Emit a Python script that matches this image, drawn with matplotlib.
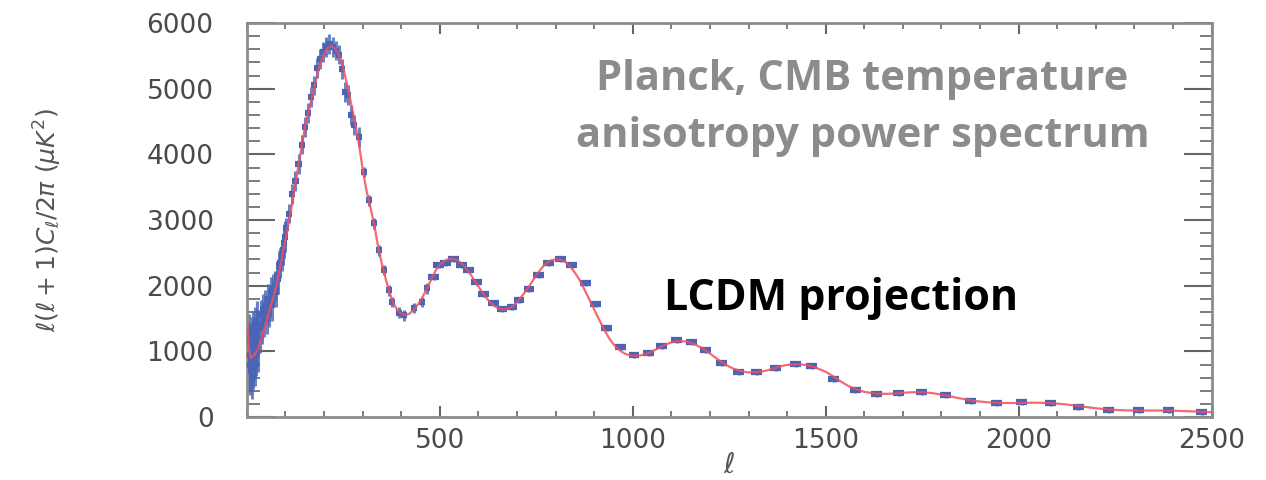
import matplotlib
matplotlib.use("Agg")
import matplotlib.pyplot as plt
import numpy as np
from matplotlib.ticker import MultipleLocator

# LCDM model curve (multipole l, D_l in muK^2)
l_model = [2, 5, 10, 20, 30, 40, 50, 60, 70, 80, 90, 100, 110, 120, 130, 140,
           150, 160, 170, 180, 190, 200, 210, 220, 230, 240, 250, 260, 270,
           280, 290, 300, 310, 320, 330, 340, 350, 360, 370, 380, 390, 400,
           410, 420, 430, 440, 450, 460, 470, 480, 490, 500, 510, 520, 530,
           540, 550, 560, 570, 580, 590, 600, 610, 620, 630, 640, 650, 660,
           670, 680, 690, 700, 710, 720, 730, 740, 750, 760, 770, 780, 790,
           800, 810, 820, 830, 840, 850, 860, 870, 880, 890, 900, 910, 920,
           930, 940, 950, 960, 970, 980, 990, 1000, 1020, 1040, 1060, 1080,
           1100, 1120, 1140, 1160, 1180, 1200, 1220, 1240, 1260, 1280, 1300,
           1320, 1340, 1360, 1380, 1400, 1420, 1440, 1460, 1480, 1500, 1520,
           1540, 1560, 1580, 1600, 1620, 1640, 1660, 1680, 1700, 1720, 1740,
           1760, 1780, 1800, 1840, 1880, 1920, 1960, 2000, 2040, 2080, 2120,
           2160, 2200, 2240, 2280, 2320, 2360, 2400, 2440, 2480, 2500]
D_model = [1380, 1050, 900, 950, 1050, 1250, 1450, 1650, 1850, 2100, 2400,
           2700, 3000, 3350, 3700, 4050, 4400, 4650, 4900, 5150, 5380, 5530,
           5620, 5650, 5600, 5500, 5320, 5050, 4780, 4480, 4180, 3780, 3450,
           3200, 2930, 2600, 2330, 2100, 1890, 1730, 1630, 1575, 1555, 1570,
           1620, 1690, 1770, 1880, 2000, 2120, 2240, 2320, 2370, 2400, 2410,
           2400, 2370, 2320, 2250, 2170, 2080, 1990, 1900, 1820, 1750, 1700,
           1660, 1640, 1640, 1660, 1690, 1750, 1820, 1900, 1980, 2070, 2160,
           2240, 2310, 2360, 2390, 2400, 2400, 2380, 2340, 2280, 2200, 2110,
           2000, 1880, 1760, 1640, 1520, 1400, 1290, 1190, 1110, 1050, 1000,
           965, 945, 935, 940, 970, 1030, 1090, 1140, 1160, 1150, 1110, 1050,
           970, 880, 800, 740, 700, 680, 685, 700, 730, 770, 795, 805, 800,
           780, 740, 690, 620, 540, 470, 420, 385, 365, 355, 355, 360, 370,
           378, 380, 375, 362, 342, 295, 250, 225, 215, 215, 220, 215, 195,
           165, 135, 112, 102, 100, 100, 98, 90, 80, 75]

# low multipoles, unbinned
l_low = [2, 3, 4, 5, 6, 7, 8, 9, 10, 11, 12, 13, 14, 15, 16, 17, 18, 19, 20,
         21, 22, 23, 24, 25, 26, 27, 28, 29]
D_low = [950, 1150, 800, 1250, 700, 1050, 900, 650, 1100, 850, 600, 950, 1200,
         750, 1000, 1300, 900, 1150, 800, 1050, 1350, 950, 1200, 1450, 1100,
         1300, 1000, 1250]
err_low = [320] * len(l_low)

# binned points
l_bin = [30, 33, 36, 39, 42, 45, 48, 51, 54, 57, 60, 63, 66, 69, 72, 75, 78,
         81, 84, 87, 90, 93, 96, 99, 102, 110, 118, 126, 134, 142, 150, 158,
         166, 174, 182, 190, 198, 206, 214, 222, 230, 238, 246, 254, 262,
         270, 278, 290, 303, 316, 329, 342, 355, 368, 376, 394, 407, 433,
         453, 466, 484, 497, 515, 536, 557, 575, 596, 614, 640, 661, 687,
         705, 731, 756, 782, 813, 842, 878, 904, 933, 969, 1003, 1041, 1075,
         1114, 1153, 1189, 1231, 1275, 1321, 1370, 1422, 1464, 1521, 1577,
         1632, 1689, 1749, 1811, 1876, 1943, 2008, 2083, 2155, 2233, 2311,
         2389, 2474]
D_bin = [1400, 1200, 1550, 1350, 1650, 1450, 1700, 1500, 1800, 1600, 1750,
         1900, 1700, 1950, 2000, 1900, 2150, 2100, 2300, 2350, 2450, 2550,
         2650, 2750, 2880, 3100, 3400, 3600, 3850, 4150, 4420, 4630, 4870,
         5050, 5320, 5450, 5560, 5640, 5680, 5630, 5580, 5520, 5300, 4950,
         4900, 4600, 4450, 4260, 3730, 3300, 2950, 2540, 2240, 1930, 1750,
         1590, 1550, 1660, 1750, 1960, 2130, 2310, 2340, 2400, 2310, 2240,
         2050, 1870, 1730, 1640, 1670, 1780, 1950, 2160, 2340, 2400, 2310,
         2040, 1720, 1355, 1065, 944, 974, 1080, 1170, 1140, 1020, 820, 690,
         680, 746, 807, 776, 578, 411, 350, 365, 380, 335, 243, 213, 228,
         213, 152, 107, 107, 107, 76]
err_bin = [230] * 24 + [150] * 24 + [80] * 12 + [45] * 48

l_half = [4] * len(l_low) + [8] * 24 + [8] * 36 + [14] * 48

blue = "#4a64b6"
red = "#f0505c"
grey = "#8c8c8c"

fig = plt.figure(figsize=(12.66, 4.8), dpi=100)
ax = fig.add_axes([0.195, 0.131, 0.762, 0.821])

l_all = l_low + l_bin
D_all = D_low + D_bin
err_all = err_low + err_bin

ax.errorbar(l_all, D_all, yerr=err_all, fmt="none", ecolor=blue, elinewidth=2.2,
            alpha=0.8, zorder=2)
ax.errorbar(l_all, D_all, xerr=l_half, fmt="none", ecolor=blue, elinewidth=4.5,
            zorder=3)
ax.plot(l_model, D_model, color=red, lw=1.6, zorder=4, alpha=0.85)

ax.set_xlim(0, 2500)
ax.set_ylim(0, 6000)
ax.xaxis.set_major_locator(MultipleLocator(500))
ax.xaxis.set_minor_locator(MultipleLocator(100))
ax.yaxis.set_major_locator(MultipleLocator(1000))
ax.yaxis.set_minor_locator(MultipleLocator(200))
ax.set_xticks([500, 1000, 1500, 2000, 2500])

for s in ax.spines.values():
    s.set_color(grey)
    s.set_linewidth(2)

ax.tick_params(axis="both", which="both", direction="in", top=True, right=True,
               colors="#666666", labelcolor="#4a4a4a", labelsize=19)
ax.tick_params(axis="y", which="major", length=20, width=1.5, pad=24)
ax.tick_params(axis="y", which="minor", length=9, width=1.2)
ax.tick_params(axis="x", which="major", length=8, width=1.5, pad=8)
ax.tick_params(axis="x", which="minor", length=4, width=1.2)

ax.set_ylabel(r"$\ell(\ell+1)C_\ell/2\pi\ (\mu K^2)$", fontsize=18, color="#555555")
ax.yaxis.set_label_coords(-0.19, 0.5)
ax.set_xlabel(r"$\ell$", fontsize=20, color="#555555")
ax.xaxis.set_label_coords(0.5, -0.085)

ax.text(0.638, 0.785, "Planck, CMB temperature\nanisotropy power spectrum",
        transform=ax.transAxes, ha="center", va="center", fontsize=30,
        fontweight="bold", color=grey, family=["Open Sans", "DejaVu Sans"],
        linespacing=1.5)
ax.text(0.616, 0.3, "LCDM projection", transform=ax.transAxes, ha="center",
        va="center", fontsize=31, fontweight="bold", color="black",
        family=["Open Sans", "DejaVu Sans"])

fig.savefig("out.png", dpi=100)
